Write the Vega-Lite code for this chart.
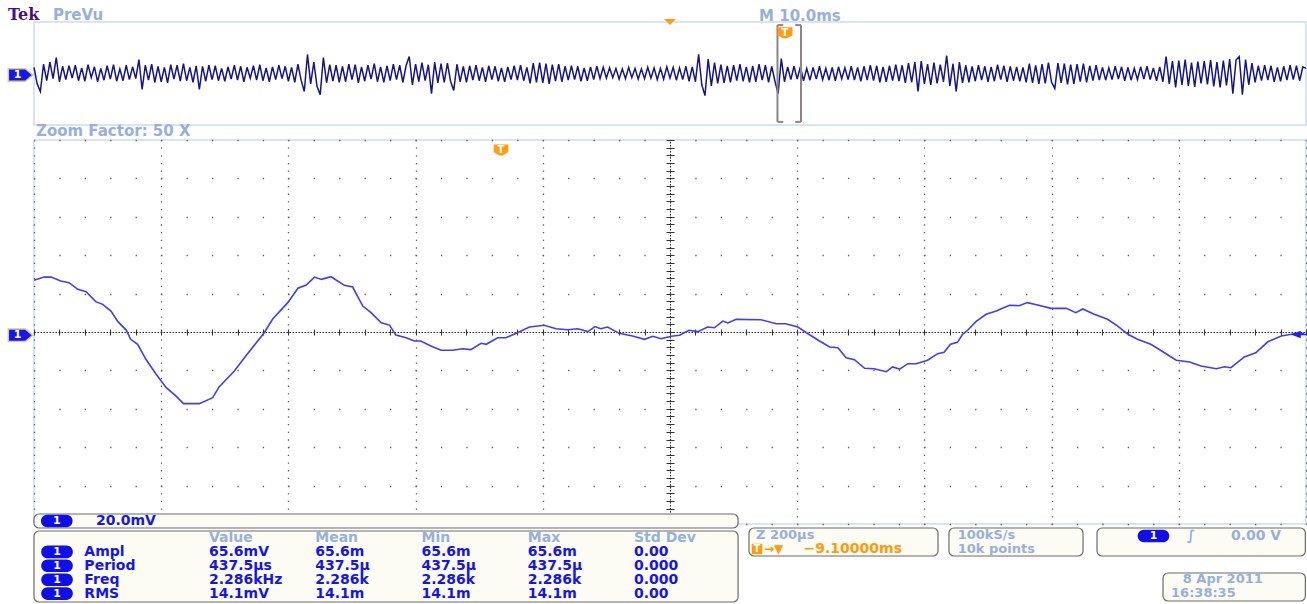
{
"$schema":"https://vega.github.io/schema/vega-lite/v6.json",
"padding":0,
"background":"white",
"bounds":"flush",
"spacing":15,
"config":{"view":{"stroke":"#c9dcf2","strokeWidth":1.5},"axis":{"labels":false,"ticks":false,"domain":false,"grid":false}},
"datasets":{
"one":[{"k":1}],
"rows":[{"row":"Ampl","label":"Ampl"},{"row":"Period","label":"Period"},{"row":"Freq","label":"Freq"},{"row":"RMS","label":"RMS"}],
"table":[
{"row":"hdr","col":"Value","text":"Value"},{"row":"hdr","col":"Mean","text":"Mean"},{"row":"hdr","col":"Min","text":"Min"},{"row":"hdr","col":"Max","text":"Max"},{"row":"hdr","col":"Std Dev","text":"Std Dev"},
{"row":"Ampl","col":"Value","text":"65.6mV"},{"row":"Ampl","col":"Mean","text":"65.6m"},{"row":"Ampl","col":"Min","text":"65.6m"},{"row":"Ampl","col":"Max","text":"65.6m"},{"row":"Ampl","col":"Std Dev","text":"0.00"},
{"row":"Period","col":"Value","text":"437.5µs"},{"row":"Period","col":"Mean","text":"437.5µ"},{"row":"Period","col":"Min","text":"437.5µ"},{"row":"Period","col":"Max","text":"437.5µ"},{"row":"Period","col":"Std Dev","text":"0.000"},
{"row":"Freq","col":"Value","text":"2.286kHz"},{"row":"Freq","col":"Mean","text":"2.286k"},{"row":"Freq","col":"Min","text":"2.286k"},{"row":"Freq","col":"Max","text":"2.286k"},{"row":"Freq","col":"Std Dev","text":"0.000"},
{"row":"RMS","col":"Value","text":"14.1mV"},{"row":"RMS","col":"Mean","text":"14.1m"},{"row":"RMS","col":"Min","text":"14.1m"},{"row":"RMS","col":"Max","text":"14.1m"},{"row":"RMS","col":"Std Dev","text":"0.00"}],
"zoom":[
{"t":-1000,"v":26.9},{"t":-984,"v":28.6},{"t":-973,"v":28.6},{"t":-958,"v":26.6},{"t":-945,"v":25.7},{"t":-931,"v":22.2},{"t":-918,"v":21.0},{"t":-903,"v":15.8},{"t":-892,"v":14.4},{"t":-879,"v":10.9},{"t":-868,"v":5.4},{"t":-855,"v":1.0},{"t":-848,"v":-3.8},{"t":-837,"v":-6.4},{"t":-824,"v":-14.2},{"t":-808,"v":-22.0},{"t":-792,"v":-29.0},{"t":-777,"v":-33.3},{"t":-765,"v":-37.3},{"t":-740,"v":-37.3},{"t":-719,"v":-34.2},{"t":-709,"v":-28.6},{"t":-685,"v":-20.3},{"t":-667,"v":-12.5},{"t":-638,"v":-0.4},{"t":-625,"v":6.6},{"t":-601,"v":15.3},{"t":-585,"v":22.8},{"t":-572,"v":24.5},{"t":-559,"v":28.6},{"t":-548,"v":27.4},{"t":-533,"v":28.8},{"t":-512,"v":24.3},{"t":-499,"v":23.4},{"t":-483,"v":13.5},{"t":-470,"v":10.1},{"t":-454,"v":4.8},{"t":-441,"v":3.6},{"t":-431,"v":-1.6},{"t":-415,"v":-3.0},{"t":-402,"v":-4.7},{"t":-392,"v":-4.7},{"t":-376,"v":-7.3},{"t":-360,"v":-9.5},{"t":-342,"v":-9.5},{"t":-326,"v":-8.7},{"t":-313,"v":-9.2},{"t":-297,"v":-5.9},{"t":-289,"v":-6.4},{"t":-271,"v":-3.0},{"t":-258,"v":-3.0},{"t":-240,"v":-0.4},{"t":-221,"v":2.6},{"t":-198,"v":3.5},{"t":-179,"v":1.7},{"t":-161,"v":1.2},{"t":-145,"v":1.7},{"t":-129,"v":0.2},{"t":-118,"v":2.8},{"t":-109,"v":1.7},{"t":-98,"v":2.6},{"t":-80,"v":-0.7},{"t":-59,"v":-2.1},{"t":-40,"v":-3.8},{"t":-27,"v":-2.2},{"t":-14,"v":-3.5},{"t":2,"v":-2.2},{"t":15,"v":-1.7},{"t":30,"v":0.9},{"t":44,"v":0.2},{"t":59,"v":2.6},{"t":70,"v":2.2},{"t":83,"v":5.7},{"t":91,"v":4.7},{"t":104,"v":6.6},{"t":143,"v":6.4},{"t":167,"v":4.3},{"t":182,"v":4.3},{"t":201,"v":2.6},{"t":217,"v":-0.9},{"t":235,"v":-4.7},{"t":251,"v":-7.8},{"t":264,"v":-8.2},{"t":277,"v":-13.4},{"t":290,"v":-14.4},{"t":306,"v":-18.9},{"t":321,"v":-19.1},{"t":340,"v":-20.7},{"t":350,"v":-18.2},{"t":361,"v":-19.3},{"t":374,"v":-16.5},{"t":387,"v":-16.5},{"t":405,"v":-14.7},{"t":421,"v":-11.3},{"t":431,"v":-10.6},{"t":441,"v":-6.4},{"t":452,"v":-5.4},{"t":460,"v":-1.2},{"t":468,"v":0.9},{"t":481,"v":5.4},{"t":497,"v":9.2},{"t":513,"v":10.9},{"t":520,"v":12.0},{"t":534,"v":13.9},{"t":549,"v":13.7},{"t":562,"v":15.3},{"t":578,"v":14.1},{"t":599,"v":12.3},{"t":623,"v":12.3},{"t":638,"v":10.1},{"t":649,"v":12.0},{"t":667,"v":9.2},{"t":688,"v":6.6},{"t":704,"v":3.1},{"t":720,"v":-1.2},{"t":735,"v":-3.8},{"t":756,"v":-6.4},{"t":775,"v":-10.3},{"t":796,"v":-14.7},{"t":817,"v":-15.6},{"t":835,"v":-17.7},{"t":859,"v":-19.1},{"t":872,"v":-18.1},{"t":882,"v":-18.6},{"t":903,"v":-13.0},{"t":921,"v":-10.8},{"t":940,"v":-5.1},{"t":961,"v":-2.1},{"t":982,"v":-0.9},{"t":997,"v":-0.7}],
"preview":[
{"t":0,"v":12},{"t":0.25,"v":-20},{"t":0.5,"v":-35},{"t":0.75,"v":18},
{"t":1,"v":-14},{"t":1.25,"v":22},{"t":1.5,"v":-10},{"t":1.75,"v":31},
{"t":2,"v":-16},{"t":2.25,"v":14},{"t":2.5,"v":-12},{"t":2.75,"v":15},
{"t":3,"v":-9},{"t":3.25,"v":16},{"t":3.5,"v":-14},{"t":3.75,"v":11},
{"t":4,"v":-15},{"t":4.25,"v":17},{"t":4.5,"v":-8},{"t":4.75,"v":13},
{"t":5,"v":-16},{"t":5.25,"v":10},{"t":5.5,"v":-13},{"t":5.75,"v":15},
{"t":6,"v":-11},{"t":6.25,"v":17},{"t":6.5,"v":-15},{"t":6.75,"v":9},
{"t":7,"v":-14},{"t":7.25,"v":16},{"t":7.5,"v":-12},{"t":7.75,"v":13},
{"t":8,"v":-10},{"t":8.25,"v":27},{"t":8.5,"v":-31},{"t":8.75,"v":16},
{"t":9,"v":-13},{"t":9.25,"v":18},{"t":9.5,"v":-17},{"t":9.75,"v":14},
{"t":10,"v":-16},{"t":10.25,"v":12},{"t":10.5,"v":-18},{"t":10.75,"v":17},
{"t":11,"v":-11},{"t":11.25,"v":16},{"t":11.5,"v":-15},{"t":11.75,"v":19},
{"t":12,"v":-14},{"t":12.25,"v":12},{"t":12.5,"v":-17},{"t":12.75,"v":15},
{"t":13,"v":-31},{"t":13.25,"v":14},{"t":13.5,"v":-15},{"t":13.75,"v":16},
{"t":14,"v":-12},{"t":14.25,"v":15},{"t":14.5,"v":-14},{"t":14.75,"v":10},
{"t":15,"v":-15},{"t":15.25,"v":13},{"t":15.5,"v":-11},{"t":15.75,"v":16},
{"t":16,"v":-13},{"t":16.25,"v":14},{"t":16.5,"v":-16},{"t":16.75,"v":12},
{"t":17,"v":-9},{"t":17.25,"v":15},{"t":17.5,"v":-13},{"t":17.75,"v":17},
{"t":18,"v":-14},{"t":18.25,"v":11},{"t":18.5,"v":-16},{"t":18.75,"v":13},
{"t":19,"v":-12},{"t":19.25,"v":16},{"t":19.5,"v":-10},{"t":19.75,"v":14},
{"t":20,"v":-15},{"t":20.25,"v":12},{"t":20.5,"v":-17},{"t":20.75,"v":18},
{"t":21,"v":-13},{"t":21.25,"v":-35},{"t":21.5,"v":37},{"t":21.75,"v":-20},
{"t":22,"v":22},{"t":22.25,"v":-25},{"t":22.5,"v":-41},{"t":22.75,"v":31},
{"t":23,"v":-18},{"t":23.25,"v":17},{"t":23.5,"v":-15},{"t":23.75,"v":16},
{"t":24,"v":-17},{"t":24.25,"v":14},{"t":24.5,"v":-16},{"t":24.75,"v":18},
{"t":25,"v":-12},{"t":25.25,"v":17},{"t":25.5,"v":-18},{"t":25.75,"v":13},
{"t":26,"v":-15},{"t":26.25,"v":16},{"t":26.5,"v":-11},{"t":26.75,"v":19},
{"t":27,"v":-16},{"t":27.25,"v":13},{"t":27.5,"v":-17},{"t":27.75,"v":15},
{"t":28,"v":-14},{"t":28.25,"v":18},{"t":28.5,"v":-12},{"t":28.75,"v":16},
{"t":29,"v":-17},{"t":29.25,"v":15},{"t":29.5,"v":33},{"t":29.75,"v":-22},
{"t":30,"v":18},{"t":30.25,"v":-16},{"t":30.5,"v":21},{"t":30.75,"v":-14},
{"t":31,"v":17},{"t":31.25,"v":-39},{"t":31.5,"v":22},{"t":31.75,"v":-18},
{"t":32,"v":19},{"t":32.25,"v":-17},{"t":32.5,"v":20},{"t":32.75,"v":-15},
{"t":33,"v":-33},{"t":33.25,"v":18},{"t":33.5,"v":-16},{"t":33.75,"v":14},
{"t":34,"v":-17},{"t":34.25,"v":15},{"t":34.5,"v":-13},{"t":34.75,"v":16},
{"t":35,"v":-14},{"t":35.25,"v":12},{"t":35.5,"v":-16},{"t":35.75,"v":15},
{"t":36,"v":-12},{"t":36.25,"v":14},{"t":36.5,"v":-15},{"t":36.75,"v":11},
{"t":37,"v":-16},{"t":37.25,"v":13},{"t":37.5,"v":-12},{"t":37.75,"v":15},
{"t":38,"v":-13},{"t":38.25,"v":16},{"t":38.5,"v":-14},{"t":38.75,"v":12},
{"t":39,"v":-19},{"t":39.25,"v":20},{"t":39.5,"v":-17},{"t":39.75,"v":21},
{"t":40,"v":-18},{"t":40.25,"v":19},{"t":40.5,"v":-20},{"t":40.75,"v":17},
{"t":41,"v":-15},{"t":41.25,"v":18},{"t":41.5,"v":-16},{"t":41.75,"v":14},
{"t":42,"v":-13},{"t":42.25,"v":15},{"t":42.5,"v":-12},{"t":42.75,"v":14},
{"t":43,"v":-15},{"t":43.25,"v":11},{"t":43.5,"v":-14},{"t":43.75,"v":13},
{"t":44,"v":-12},{"t":44.25,"v":14},{"t":44.5,"v":-10},{"t":44.75,"v":12},
{"t":45,"v":-9},{"t":45.25,"v":11},{"t":45.5,"v":-8},{"t":45.75,"v":10},
{"t":46,"v":-11},{"t":46.25,"v":9},{"t":46.5,"v":-10},{"t":46.75,"v":12},
{"t":47,"v":-8},{"t":47.25,"v":10},{"t":47.5,"v":-11},{"t":47.75,"v":9},
{"t":48,"v":-10},{"t":48.25,"v":12},{"t":48.5,"v":-9},{"t":48.75,"v":11},
{"t":49,"v":-12},{"t":49.25,"v":10},{"t":49.5,"v":-11},{"t":49.75,"v":13},
{"t":50,"v":-9},{"t":50.25,"v":12},{"t":50.5,"v":-13},{"t":50.75,"v":11},
{"t":51,"v":-12},{"t":51.25,"v":14},{"t":51.5,"v":-15},{"t":51.75,"v":13},
{"t":52,"v":-16},{"t":52.25,"v":37},{"t":52.5,"v":-22},{"t":52.75,"v":-43},
{"t":53,"v":28},{"t":53.25,"v":-24},{"t":53.5,"v":21},{"t":53.75,"v":-19},
{"t":54,"v":17},{"t":54.25,"v":-18},{"t":54.5,"v":15},{"t":54.75,"v":-17},
{"t":55,"v":16},{"t":55.25,"v":-14},{"t":55.5,"v":18},{"t":55.75,"v":-15},
{"t":56,"v":13},{"t":56.25,"v":-17},{"t":56.5,"v":15},{"t":56.75,"v":-16},
{"t":57,"v":18},{"t":57.25,"v":-13},{"t":57.5,"v":16},{"t":57.75,"v":-17},
{"t":58,"v":14},{"t":58.25,"v":-15},{"t":58.5,"v":-39},{"t":58.75,"v":29},
{"t":59,"v":-16},{"t":59.25,"v":13},{"t":59.5,"v":-12},{"t":59.75,"v":14},
{"t":60,"v":-11},{"t":60.25,"v":13},{"t":60.5,"v":-14},{"t":60.75,"v":10},
{"t":61,"v":-13},{"t":61.25,"v":12},{"t":61.5,"v":-11},{"t":61.75,"v":14},
{"t":62,"v":-12},{"t":62.25,"v":10},{"t":62.5,"v":-13},{"t":62.75,"v":12},
{"t":63,"v":-14},{"t":63.25,"v":13},{"t":63.5,"v":-10},{"t":63.75,"v":11},
{"t":64,"v":-12},{"t":64.25,"v":14},{"t":64.5,"v":-13},{"t":64.75,"v":12},
{"t":65,"v":-15},{"t":65.25,"v":14},{"t":65.5,"v":-13},{"t":65.75,"v":16},
{"t":66,"v":-14},{"t":66.25,"v":15},{"t":66.5,"v":-17},{"t":66.75,"v":13},
{"t":67,"v":-16},{"t":67.25,"v":15},{"t":67.5,"v":-14},{"t":67.75,"v":17},
{"t":68,"v":-15},{"t":68.25,"v":16},{"t":68.5,"v":-18},{"t":68.75,"v":20},
{"t":69,"v":-17},{"t":69.25,"v":22},{"t":69.5,"v":-35},{"t":69.75,"v":24},
{"t":70,"v":-20},{"t":70.25,"v":18},{"t":70.5,"v":-22},{"t":70.75,"v":21},
{"t":71,"v":-19},{"t":71.25,"v":17},{"t":71.5,"v":-16},{"t":71.75,"v":35},
{"t":72,"v":-24},{"t":72.25,"v":19},{"t":72.5,"v":-35},{"t":72.75,"v":22},
{"t":73,"v":-18},{"t":73.25,"v":16},{"t":73.5,"v":-17},{"t":73.75,"v":14},
{"t":74,"v":-15},{"t":74.25,"v":16},{"t":74.5,"v":-13},{"t":74.75,"v":14},
{"t":75,"v":-16},{"t":75.25,"v":13},{"t":75.5,"v":-15},{"t":75.75,"v":17},
{"t":76,"v":-12},{"t":76.25,"v":15},{"t":76.5,"v":-16},{"t":76.75,"v":14},
{"t":77,"v":-14},{"t":77.25,"v":13},{"t":77.5,"v":-15},{"t":77.75,"v":12},
{"t":78,"v":-17},{"t":78.25,"v":19},{"t":78.5,"v":-18},{"t":78.75,"v":16},
{"t":79,"v":-20},{"t":79.25,"v":18},{"t":79.5,"v":-19},{"t":79.75,"v":21},
{"t":80,"v":-17},{"t":80.25,"v":-29},{"t":80.5,"v":20},{"t":80.75,"v":-18},
{"t":81,"v":19},{"t":81.25,"v":-21},{"t":81.5,"v":17},{"t":81.75,"v":-20},
{"t":82,"v":18},{"t":82.25,"v":-16},{"t":82.5,"v":19},{"t":82.75,"v":-17},
{"t":83,"v":15},{"t":83.25,"v":-14},{"t":83.5,"v":16},{"t":83.75,"v":-13},
{"t":84,"v":12},{"t":84.25,"v":-13},{"t":84.5,"v":11},{"t":84.75,"v":-12},
{"t":85,"v":14},{"t":85.25,"v":-11},{"t":85.5,"v":13},{"t":85.75,"v":-14},
{"t":86,"v":12},{"t":86.25,"v":-13},{"t":86.5,"v":10},{"t":86.75,"v":-12},
{"t":87,"v":13},{"t":87.25,"v":-11},{"t":87.5,"v":14},{"t":87.75,"v":-12},
{"t":88,"v":11},{"t":88.25,"v":-14},{"t":88.5,"v":13},{"t":88.75,"v":-16},
{"t":89,"v":33},{"t":89.25,"v":-20},{"t":89.5,"v":24},{"t":89.75,"v":-27},
{"t":90,"v":25},{"t":90.25,"v":-22},{"t":90.5,"v":27},{"t":90.75,"v":-24},
{"t":91,"v":21},{"t":91.25,"v":-26},{"t":91.5,"v":23},{"t":91.75,"v":-19},
{"t":92,"v":24},{"t":92.25,"v":-21},{"t":92.5,"v":26},{"t":92.75,"v":-25},
{"t":93,"v":22},{"t":93.25,"v":-27},{"t":93.5,"v":25},{"t":93.75,"v":-23},
{"t":94,"v":28},{"t":94.25,"v":-39},{"t":94.5,"v":26},{"t":94.75,"v":33},
{"t":95,"v":-41},{"t":95.25,"v":27},{"t":95.5,"v":-22},{"t":95.75,"v":20},
{"t":96,"v":-17},{"t":96.25,"v":15},{"t":96.5,"v":-14},{"t":96.75,"v":16},
{"t":97,"v":-13},{"t":97.25,"v":15},{"t":97.5,"v":-16},{"t":97.75,"v":12},
{"t":98,"v":-15},{"t":98.25,"v":14},{"t":98.5,"v":-13},{"t":98.75,"v":16},
{"t":99,"v":-12},{"t":99.25,"v":15},{"t":99.5,"v":-14},{"t":99.75,"v":13},
{"t":100,"v":10}]
},
"vconcat":[
{"width":1272,"height":103,
"layer":[
{"data":{"name":"one"},"mark":{"type":"rect","fill":"white","strokeWidth":0},"encoding":{"x":{"datum":-2.59,"type":"quantitative","scale":{"domain":[0,100],"nice":false,"zero":false},"axis":null},"x2":{"datum":100.15},"y":{"datum":140.7,"type":"quantitative","scale":{"domain":[-100,100],"nice":false,"zero":false},"axis":null},"y2":{"datum":121}}},
{"data":{"name":"preview"},"mark":{"type":"line","color":"#15158a","strokeWidth":1.5},"encoding":{"x":{"field":"t","type":"quantitative","scale":{"domain":[0,100],"nice":false,"zero":false},"axis":null},"y":{"field":"v","type":"quantitative","scale":{"domain":[-100,100],"nice":false,"zero":false},"axis":null}}},
{"data":{"name":"one"},"mark":{"type":"rule","color":"#8d8585","strokeWidth":2},"encoding":{"x":{"datum":58.45,"type":"quantitative","scale":{"domain":[0,100],"nice":false,"zero":false},"axis":null},"y":{"datum":94,"type":"quantitative","scale":{"domain":[-100,100],"nice":false,"zero":false},"axis":null},"y2":{"datum":-94}}},
{"data":{"name":"one"},"mark":{"type":"rule","color":"#8d8585","strokeWidth":2},"encoding":{"x":{"datum":60.3,"type":"quantitative","scale":{"domain":[0,100],"nice":false,"zero":false},"axis":null},"y":{"datum":94,"type":"quantitative","scale":{"domain":[-100,100],"nice":false,"zero":false},"axis":null},"y2":{"datum":-94}}},
{"data":{"name":"one"},"mark":{"type":"rule","color":"#8d8585","strokeWidth":2},"encoding":{"x":{"datum":58.45,"type":"quantitative","scale":{"domain":[0,100],"nice":false,"zero":false},"axis":null},"x2":{"datum":58.9},"y":{"datum":94,"type":"quantitative","scale":{"domain":[-100,100],"nice":false,"zero":false},"axis":null}}},
{"data":{"name":"one"},"mark":{"type":"rule","color":"#8d8585","strokeWidth":2},"encoding":{"x":{"datum":58.45,"type":"quantitative","scale":{"domain":[0,100],"nice":false,"zero":false},"axis":null},"x2":{"datum":58.9},"y":{"datum":-94,"type":"quantitative","scale":{"domain":[-100,100],"nice":false,"zero":false},"axis":null}}},
{"data":{"name":"one"},"mark":{"type":"rule","color":"#8d8585","strokeWidth":2},"encoding":{"x":{"datum":59.85,"type":"quantitative","scale":{"domain":[0,100],"nice":false,"zero":false},"axis":null},"x2":{"datum":60.3},"y":{"datum":94,"type":"quantitative","scale":{"domain":[-100,100],"nice":false,"zero":false},"axis":null}}},
{"data":{"name":"one"},"mark":{"type":"rule","color":"#8d8585","strokeWidth":2},"encoding":{"x":{"datum":59.85,"type":"quantitative","scale":{"domain":[0,100],"nice":false,"zero":false},"axis":null},"x2":{"datum":60.3},"y":{"datum":-94,"type":"quantitative","scale":{"domain":[-100,100],"nice":false,"zero":false},"axis":null}}},
{"data":{"name":"one"},"mark":{"type":"point","shape":"M-1,-0.5H1L0,0.5Z","filled":true,"opacity":1,"color":"#ff9c10","size":144},"encoding":{"x":{"datum":50,"type":"quantitative","scale":{"domain":[0,100],"nice":false,"zero":false},"axis":null},"y":{"datum":100,"type":"quantitative","scale":{"domain":[-100,100],"nice":false,"zero":false},"axis":null}}},
{"data":{"name":"one"},"mark":{"type":"point","shape":"M-1,-0.75H1V0.3L0.2,0.75H-0.2L-1,0.3Z","filled":true,"opacity":1,"color":"#ff9c10","size":225},"encoding":{"x":{"datum":59.04,"type":"quantitative","scale":{"domain":[0,100],"nice":false,"zero":false},"axis":null},"y":{"datum":78.7,"type":"quantitative","scale":{"domain":[-100,100],"nice":false,"zero":false},"axis":null}}},
{"data":{"name":"one"},"mark":{"type":"text","text":"T","align":"center","baseline":"middle","font":"DejaVu Sans","fontWeight":"bold","fontSize":10,"color":"white"},"encoding":{"x":{"datum":59.04,"type":"quantitative","scale":{"domain":[0,100],"nice":false,"zero":false},"axis":null},"y":{"datum":78.7,"type":"quantitative","scale":{"domain":[-100,100],"nice":false,"zero":false},"axis":null}}},
{"data":{"name":"one"},"mark":{"type":"point","shape":"M-1,-0.52H0.4L1,0L0.4,0.52H-1Z","filled":true,"opacity":1,"fill":"#1616ee","stroke":"#d9cc80","strokeWidth":1.5,"size":595},"encoding":{"x":{"datum":-1.06,"type":"quantitative","scale":{"domain":[0,100],"nice":false,"zero":false},"axis":null},"y":{"datum":-2.9,"type":"quantitative","scale":{"domain":[-100,100],"nice":false,"zero":false},"axis":null}}},
{"data":{"name":"one"},"mark":{"type":"text","text":"1","align":"center","baseline":"middle","dx":-3,"font":"DejaVu Sans","fontWeight":"bold","fontSize":11,"color":"white"},"encoding":{"x":{"datum":-1.06,"type":"quantitative","scale":{"domain":[0,100],"nice":false,"zero":false},"axis":null},"y":{"datum":-2.9,"type":"quantitative","scale":{"domain":[-100,100],"nice":false,"zero":false},"axis":null}}},
{"data":{"name":"one"},"mark":{"type":"text","text":"Tek","align":"left","baseline":"middle","font":"DejaVu Serif","fontWeight":"bold","fontSize":16,"color":"#4a0f7e"},"encoding":{"x":{"datum":-2.04,"type":"quantitative","scale":{"domain":[0,100],"nice":false,"zero":false},"axis":null},"y":{"datum":113,"type":"quantitative","scale":{"domain":[-100,100],"nice":false,"zero":false},"axis":null}}},
{"data":{"name":"one"},"mark":{"type":"text","text":"PreVu","align":"left","baseline":"middle","font":"DejaVu Sans","fontWeight":"bold","fontSize":15,"color":"#98afdc"},"encoding":{"x":{"datum":1.49,"type":"quantitative","scale":{"domain":[0,100],"nice":false,"zero":false},"axis":null},"y":{"datum":113,"type":"quantitative","scale":{"domain":[-100,100],"nice":false,"zero":false},"axis":null}}},
{"data":{"name":"one"},"mark":{"type":"text","text":"M 10.0ms","align":"left","baseline":"middle","font":"DejaVu Sans","fontWeight":"bold","fontSize":15,"color":"#98afdc"},"encoding":{"x":{"datum":57.0,"type":"quantitative","scale":{"domain":[0,100],"nice":false,"zero":false},"axis":null},"y":{"datum":112.6,"type":"quantitative","scale":{"domain":[-100,100],"nice":false,"zero":false},"axis":null}}},
{"data":{"name":"one"},"mark":{"type":"text","text":"Zoom Factor: 50 X","align":"left","baseline":"middle","font":"DejaVu Sans","fontWeight":"bold","fontSize":15,"color":"#98afdc"},"encoding":{"x":{"datum":0.16,"type":"quantitative","scale":{"domain":[0,100],"nice":false,"zero":false},"axis":null},"y":{"datum":-112.6,"type":"quantitative","scale":{"domain":[-100,100],"nice":false,"zero":false},"axis":null}}}
]},
{"width":1272,"height":384,
"data":{"name":"zoom"},
"resolve":{"axis":{"x":"independent","y":"independent"}},
"layer":[
{"mark":{"type":"line","opacity":0},"encoding":{
"x":{"field":"t","type":"quantitative","scale":{"domain":[-1000,1000],"nice":false,"zero":false},"axis":{"orient":"bottom","offset":-192,"title":null,"labels":false,"grid":false,"domain":true,"domainColor":"#222222","domainDash":[1.5,1.5],"domainWidth":1,"ticks":true,"tickSize":3,"tickColor":"#333333","tickWidth":1,"values":[-1000,-960,-920,-880,-840,-800,-760,-720,-680,-640,-600,-560,-520,-480,-440,-400,-360,-320,-280,-240,-200,-160,-120,-80,-40,0,40,80,120,160,200,240,280,320,360,400,440,480,520,560,600,640,680,720,760,800,840,880,920,960,1000]}},
"y":{"field":"v","type":"quantitative","scale":{"domain":[-100,100],"nice":false,"zero":false},"axis":{"orient":"left","offset":-636,"title":null,"labels":false,"grid":false,"domain":true,"domainColor":"#222222","domainDash":[1.5,1.5],"domainWidth":1,"ticks":true,"tickSize":4,"tickColor":"#333333","tickWidth":1,"values":[-100,-96,-92,-88,-84,-80,-76,-72,-68,-64,-60,-56,-52,-48,-44,-40,-36,-32,-28,-24,-20,-16,-12,-8,-4,0,4,8,12,16,20,24,28,32,36,40,44,48,52,56,60,64,68,72,76,80,84,88,92,96,100]}}}},
{"mark":{"type":"line","opacity":0},"encoding":{
"x":{"field":"t","type":"quantitative","scale":{"domain":[-1000,1000],"nice":false,"zero":false},"axis":{"orient":"top","offset":-192,"title":null,"labels":false,"grid":false,"domain":false,"ticks":true,"tickSize":3,"tickColor":"#333333","tickWidth":1,"values":[-1000,-960,-920,-880,-840,-800,-760,-720,-680,-640,-600,-560,-520,-480,-440,-400,-360,-320,-280,-240,-200,-160,-120,-80,-40,0,40,80,120,160,200,240,280,320,360,400,440,480,520,560,600,640,680,720,760,800,840,880,920,960,1000]}},
"y":{"field":"v","type":"quantitative","scale":{"domain":[-100,100],"nice":false,"zero":false},"axis":{"orient":"right","offset":-636,"title":null,"labels":false,"grid":false,"domain":false,"ticks":true,"tickSize":4,"tickColor":"#333333","tickWidth":1,"values":[-100,-96,-92,-88,-84,-80,-76,-72,-68,-64,-60,-56,-52,-48,-44,-40,-36,-32,-28,-24,-20,-16,-12,-8,-4,0,4,8,12,16,20,24,28,32,36,40,44,48,52,56,60,64,68,72,76,80,84,88,92,96,100]}}}},
{"mark":{"type":"line","color":"#3d3dfa","strokeWidth":1.6},"encoding":{
"x":{"field":"t","type":"quantitative","scale":{"domain":[-1000,1000],"nice":false,"zero":false},"axis":{"orient":"top","title":null,"labels":false,"ticks":false,"domain":false,"grid":true,"values":[-1000,-800,-600,-400,-200,0,200,400,600,800,1000],"gridColor":"#5a5a5a","gridWidth":1.3,"gridOpacity":1,"gridDash":[1.3,6.38],"gridDashOffset":0.65}},
"y":{"field":"v","type":"quantitative","scale":{"domain":[-100,100],"nice":false,"zero":false},"axis":{"orient":"left","title":null,"labels":false,"ticks":false,"domain":false,"grid":true,"values":[-100,-80,-60,-40,-20,0,20,40,60,80,100],"gridColor":"#5a5a5a","gridWidth":1.3,"gridOpacity":1,"gridDash":[1.3,24.14],"gridDashOffset":0.65}}}},
{"data":{"name":"one"},"mark":{"type":"point","shape":"M-1,-0.75H1V0.3L0.2,0.75H-0.2L-1,0.3Z","filled":true,"opacity":1,"color":"#ff9c10","size":213},"encoding":{"x":{"datum":-265.7,"type":"quantitative","scale":{"domain":[-1000,1000],"nice":false,"zero":false},"axis":null},"y":{"datum":94.8,"type":"quantitative","scale":{"domain":[-100,100],"nice":false,"zero":false},"axis":null}}},
{"data":{"name":"one"},"mark":{"type":"text","text":"T","align":"center","baseline":"middle","font":"DejaVu Sans","fontWeight":"bold","fontSize":10,"color":"white"},"encoding":{"x":{"datum":-265.7,"type":"quantitative","scale":{"domain":[-1000,1000],"nice":false,"zero":false},"axis":null},"y":{"datum":94.8,"type":"quantitative","scale":{"domain":[-100,100],"nice":false,"zero":false},"axis":null}}},
{"data":{"name":"one"},"mark":{"type":"point","shape":"M-1,-0.52H0.4L1,0L0.4,0.52H-1Z","filled":true,"opacity":1,"fill":"#1616ee","stroke":"#d9cc80","strokeWidth":1.5,"size":595},"encoding":{"x":{"datum":-1021.2,"type":"quantitative","scale":{"domain":[-1000,1000],"nice":false,"zero":false},"axis":null},"y":{"datum":-1.7,"type":"quantitative","scale":{"domain":[-100,100],"nice":false,"zero":false},"axis":null}}},
{"data":{"name":"one"},"mark":{"type":"text","text":"1","align":"center","baseline":"middle","dx":-3,"font":"DejaVu Sans","fontWeight":"bold","fontSize":11,"color":"white"},"encoding":{"x":{"datum":-1021.2,"type":"quantitative","scale":{"domain":[-1000,1000],"nice":false,"zero":false},"axis":null},"y":{"datum":-1.7,"type":"quantitative","scale":{"domain":[-100,100],"nice":false,"zero":false},"axis":null}}},
{"data":{"name":"one"},"mark":{"type":"rule","color":"#2020ff","strokeWidth":1.5},"encoding":{"x":{"datum":985,"type":"quantitative","scale":{"domain":[-1000,1000],"nice":false,"zero":false},"axis":null},"x2":{"datum":1000},"y":{"datum":-1.3,"type":"quantitative","scale":{"domain":[-100,100],"nice":false,"zero":false},"axis":null}}},
{"data":{"name":"one"},"mark":{"type":"point","shape":"M1,-0.75L-1,0L1,0.75Z","filled":true,"opacity":1,"color":"#2020ff","size":100},"encoding":{"x":{"datum":984,"type":"quantitative","scale":{"domain":[-1000,1000],"nice":false,"zero":false},"axis":null},"y":{"datum":-1.3,"type":"quantitative","scale":{"domain":[-100,100],"nice":false,"zero":false},"axis":null}}}
]},
{"width":1272,"height":66,
"view":{"stroke":null},
"resolve":{"scale":{"x":"independent","y":"independent"}},
"layer":[
{"data":{"name":"one"},"mark":{"type":"rect","cornerRadius":5,"fill":"#fcfcf4","stroke":"#6b6b6b","strokeWidth":1.2},"encoding":{"x":{"datum":0,"type":"quantitative","scale":{"domain":[0,100],"nice":false,"zero":false},"axis":null},"x2":{"datum":55.35},"y":{"datum":-37.88,"type":"quantitative","scale":{"domain":[0,100],"nice":false,"zero":false,"reverse":true},"axis":null},"y2":{"datum":-16.67}}},
{"data":{"name":"one"},"mark":{"type":"rect","cornerRadius":5,"fill":"#fcfcf4","stroke":"#6b6b6b","strokeWidth":1.2},"encoding":{"x":{"datum":0,"type":"quantitative","scale":{"domain":[0,100],"nice":false,"zero":false},"axis":null},"x2":{"datum":55.35},"y":{"datum":-12.12,"type":"quantitative","scale":{"domain":[0,100],"nice":false,"zero":false,"reverse":true},"axis":null},"y2":{"datum":95.45}}},
{"data":{"name":"one"},"mark":{"type":"rect","cornerRadius":5,"fill":"#fcfcf4","stroke":"#6b6b6b","strokeWidth":1.2},"encoding":{"x":{"datum":56.21,"type":"quantitative","scale":{"domain":[0,100],"nice":false,"zero":false},"axis":null},"x2":{"datum":71.07},"y":{"datum":-16.67,"type":"quantitative","scale":{"domain":[0,100],"nice":false,"zero":false,"reverse":true},"axis":null},"y2":{"datum":25.76}}},
{"data":{"name":"one"},"mark":{"type":"rect","cornerRadius":5,"fill":"#fcfcf4","stroke":"#6b6b6b","strokeWidth":1.2},"encoding":{"x":{"datum":71.93,"type":"quantitative","scale":{"domain":[0,100],"nice":false,"zero":false},"axis":null},"x2":{"datum":82.47},"y":{"datum":-16.67,"type":"quantitative","scale":{"domain":[0,100],"nice":false,"zero":false,"reverse":true},"axis":null},"y2":{"datum":25.76}}},
{"data":{"name":"one"},"mark":{"type":"rect","cornerRadius":5,"fill":"#fcfcf4","stroke":"#6b6b6b","strokeWidth":1.2},"encoding":{"x":{"datum":83.57,"type":"quantitative","scale":{"domain":[0,100],"nice":false,"zero":false},"axis":null},"x2":{"datum":99.95},"y":{"datum":-16.67,"type":"quantitative","scale":{"domain":[0,100],"nice":false,"zero":false,"reverse":true},"axis":null},"y2":{"datum":25.76}}},
{"data":{"name":"one"},"mark":{"type":"rect","cornerRadius":5,"fill":"#fcfcf4","stroke":"#6b6b6b","strokeWidth":1.2},"encoding":{"x":{"datum":88.76,"type":"quantitative","scale":{"domain":[0,100],"nice":false,"zero":false},"axis":null},"x2":{"datum":99.95},"y":{"datum":51.52,"type":"quantitative","scale":{"domain":[0,100],"nice":false,"zero":false,"reverse":true},"axis":null},"y2":{"datum":93.94}}},
{"data":{"name":"one"},"mark":{"type":"point","shape":"M-0.6,-0.4H0.6A0.4,0.4 0 0 1 0.6,0.4H-0.6A0.4,0.4 0 0 1 -0.6,-0.4Z","filled":true,"opacity":1,"color":"#0f0fe6","size":1000},"encoding":{"x":{"datum":1.79,"type":"quantitative","scale":{"domain":[0,100],"nice":false,"zero":false},"axis":null},"y":{"datum":-27.27,"type":"quantitative","scale":{"domain":[0,100],"nice":false,"zero":false,"reverse":true},"axis":null}}},
{"data":{"name":"one"},"mark":{"type":"text","text":"1","align":"center","baseline":"middle","font":"DejaVu Sans","fontWeight":"bold","fontSize":11,"color":"white"},"encoding":{"x":{"datum":1.79,"type":"quantitative","scale":{"domain":[0,100],"nice":false,"zero":false},"axis":null},"y":{"datum":-27.27,"type":"quantitative","scale":{"domain":[0,100],"nice":false,"zero":false,"reverse":true},"axis":null}}},
{"data":{"name":"one"},"mark":{"type":"text","text":"20.0mV","align":"left","baseline":"middle","font":"DejaVu Sans","fontWeight":"bold","fontSize":14,"color":"#1414ee"},"encoding":{"x":{"datum":4.87,"type":"quantitative","scale":{"domain":[0,100],"nice":false,"zero":false},"axis":null},"y":{"datum":-27.27,"type":"quantitative","scale":{"domain":[0,100],"nice":false,"zero":false,"reverse":true},"axis":null}}},
{"data":{"name":"table"},"mark":{"type":"text","align":"left","baseline":"middle","font":"DejaVu Sans","fontWeight":"bold","fontSize":14},"encoding":{"x":{"field":"col","type":"nominal","scale":{"type":"point","domain":["Value","Mean","Min","Max","Std Dev"],"range":[175,600],"padding":0},"axis":null},"y":{"field":"row","type":"nominal","scale":{"type":"point","domain":["hdr","Ampl","Period","Freq","RMS"],"range":[-1,54.6],"padding":0},"axis":null},"text":{"field":"text"},"color":{"condition":{"test":"datum.row === 'hdr'","value":"#98afdc"},"value":"#1414ee"}}},
{"data":{"name":"rows"},"mark":{"type":"text","align":"left","baseline":"middle","font":"DejaVu Sans","fontWeight":"bold","fontSize":14,"color":"#1414ee"},"encoding":{"x":{"datum":3.96,"type":"quantitative","scale":{"domain":[0,100],"nice":false,"zero":false},"axis":null},"y":{"field":"row","type":"nominal","scale":{"type":"point","domain":["hdr","Ampl","Period","Freq","RMS"],"range":[-1,54.6],"padding":0},"axis":null},"text":{"field":"label"}}},
{"data":{"name":"rows"},"mark":{"type":"point","shape":"M-0.6,-0.4H0.6A0.4,0.4 0 0 1 0.6,0.4H-0.6A0.4,0.4 0 0 1 -0.6,-0.4Z","filled":true,"opacity":1,"color":"#0f0fe6","size":1000},"encoding":{"x":{"datum":1.81,"type":"quantitative","scale":{"domain":[0,100],"nice":false,"zero":false},"axis":null},"y":{"field":"row","type":"nominal","scale":{"type":"point","domain":["hdr","Ampl","Period","Freq","RMS"],"range":[-1,54.6],"padding":0},"axis":null}}},
{"data":{"name":"rows"},"mark":{"type":"text","text":"1","align":"center","baseline":"middle","font":"DejaVu Sans","fontWeight":"bold","fontSize":11,"color":"white"},"encoding":{"x":{"datum":1.81,"type":"quantitative","scale":{"domain":[0,100],"nice":false,"zero":false},"axis":null},"y":{"field":"row","type":"nominal","scale":{"type":"point","domain":["hdr","Ampl","Period","Freq","RMS"],"range":[-1,54.6],"padding":0},"axis":null}}},
{"data":{"name":"one"},"mark":{"type":"text","text":"Z 200µs","align":"left","baseline":"middle","font":"DejaVu Sans","fontWeight":"bold","fontSize":13,"color":"#98afdc"},"encoding":{"x":{"datum":56.76,"type":"quantitative","scale":{"domain":[0,100],"nice":false,"zero":false},"axis":null},"y":{"datum":-6.06,"type":"quantitative","scale":{"domain":[0,100],"nice":false,"zero":false,"reverse":true},"axis":null}}},
{"data":{"name":"one"},"mark":{"type":"point","shape":"square","filled":true,"opacity":1,"color":"#ff9a0a","size":110},"encoding":{"x":{"datum":56.84,"type":"quantitative","scale":{"domain":[0,100],"nice":false,"zero":false},"axis":null},"y":{"datum":15.15,"type":"quantitative","scale":{"domain":[0,100],"nice":false,"zero":false,"reverse":true},"axis":null}}},
{"data":{"name":"one"},"mark":{"type":"text","text":"T","align":"center","baseline":"middle","font":"DejaVu Sans","fontWeight":"bold","fontSize":10,"color":"white"},"encoding":{"x":{"datum":56.84,"type":"quantitative","scale":{"domain":[0,100],"nice":false,"zero":false},"axis":null},"y":{"datum":15.15,"type":"quantitative","scale":{"domain":[0,100],"nice":false,"zero":false,"reverse":true},"axis":null}}},
{"data":{"name":"one"},"mark":{"type":"text","text":"→▼","align":"left","baseline":"middle","font":"DejaVu Sans","fontWeight":"bold","fontSize":12,"color":"#ff9a0a"},"encoding":{"x":{"datum":57.39,"type":"quantitative","scale":{"domain":[0,100],"nice":false,"zero":false},"axis":null},"y":{"datum":15.15,"type":"quantitative","scale":{"domain":[0,100],"nice":false,"zero":false,"reverse":true},"axis":null}}},
{"data":{"name":"one"},"mark":{"type":"text","text":"−9.10000ms","align":"left","baseline":"middle","font":"DejaVu Sans","fontWeight":"bold","fontSize":14,"color":"#ff9a0a"},"encoding":{"x":{"datum":60.5,"type":"quantitative","scale":{"domain":[0,100],"nice":false,"zero":false},"axis":null},"y":{"datum":15.15,"type":"quantitative","scale":{"domain":[0,100],"nice":false,"zero":false,"reverse":true},"axis":null}}},
{"data":{"name":"one"},"mark":{"type":"text","text":"100kS/s","align":"left","baseline":"middle","font":"DejaVu Sans","fontWeight":"bold","fontSize":13,"color":"#98afdc"},"encoding":{"x":{"datum":72.62,"type":"quantitative","scale":{"domain":[0,100],"nice":false,"zero":false},"axis":null},"y":{"datum":-6.06,"type":"quantitative","scale":{"domain":[0,100],"nice":false,"zero":false,"reverse":true},"axis":null}}},
{"data":{"name":"one"},"mark":{"type":"text","text":"10k points","align":"left","baseline":"middle","font":"DejaVu Sans","fontWeight":"bold","fontSize":13,"color":"#98afdc"},"encoding":{"x":{"datum":72.62,"type":"quantitative","scale":{"domain":[0,100],"nice":false,"zero":false},"axis":null},"y":{"datum":15.15,"type":"quantitative","scale":{"domain":[0,100],"nice":false,"zero":false,"reverse":true},"axis":null}}},
{"data":{"name":"one"},"mark":{"type":"point","shape":"M-0.6,-0.4H0.6A0.4,0.4 0 0 1 0.6,0.4H-0.6A0.4,0.4 0 0 1 -0.6,-0.4Z","filled":true,"opacity":1,"color":"#0f0fe6","size":1000},"encoding":{"x":{"datum":88.01,"type":"quantitative","scale":{"domain":[0,100],"nice":false,"zero":false},"axis":null},"y":{"datum":-4.55,"type":"quantitative","scale":{"domain":[0,100],"nice":false,"zero":false,"reverse":true},"axis":null}}},
{"data":{"name":"one"},"mark":{"type":"text","text":"1","align":"center","baseline":"middle","font":"DejaVu Sans","fontWeight":"bold","fontSize":11,"color":"white"},"encoding":{"x":{"datum":88.01,"type":"quantitative","scale":{"domain":[0,100],"nice":false,"zero":false},"axis":null},"y":{"datum":-4.55,"type":"quantitative","scale":{"domain":[0,100],"nice":false,"zero":false,"reverse":true},"axis":null}}},
{"data":{"name":"one"},"mark":{"type":"text","text":"∫","align":"center","baseline":"middle","font":"DejaVu Sans","fontWeight":"bold","fontSize":14,"color":"#98afdc"},"encoding":{"x":{"datum":90.96,"type":"quantitative","scale":{"domain":[0,100],"nice":false,"zero":false},"axis":null},"y":{"datum":-4.55,"type":"quantitative","scale":{"domain":[0,100],"nice":false,"zero":false,"reverse":true},"axis":null}}},
{"data":{"name":"one"},"mark":{"type":"text","text":"0.00 V","align":"left","baseline":"middle","font":"DejaVu Sans","fontWeight":"bold","fontSize":14,"color":"#98afdc"},"encoding":{"x":{"datum":94.1,"type":"quantitative","scale":{"domain":[0,100],"nice":false,"zero":false},"axis":null},"y":{"datum":-4.55,"type":"quantitative","scale":{"domain":[0,100],"nice":false,"zero":false,"reverse":true},"axis":null}}},
{"data":{"name":"one"},"mark":{"type":"text","text":"8 Apr 2011","align":"left","baseline":"middle","font":"DejaVu Sans","fontWeight":"bold","fontSize":13,"color":"#98afdc"},"encoding":{"x":{"datum":90.31,"type":"quantitative","scale":{"domain":[0,100],"nice":false,"zero":false},"axis":null},"y":{"datum":60.6,"type":"quantitative","scale":{"domain":[0,100],"nice":false,"zero":false,"reverse":true},"axis":null}}},
{"data":{"name":"one"},"mark":{"type":"text","text":"16:38:35","align":"left","baseline":"middle","font":"DejaVu Sans","fontWeight":"bold","fontSize":13,"color":"#98afdc"},"encoding":{"x":{"datum":89.39,"type":"quantitative","scale":{"domain":[0,100],"nice":false,"zero":false},"axis":null},"y":{"datum":81.8,"type":"quantitative","scale":{"domain":[0,100],"nice":false,"zero":false,"reverse":true},"axis":null}}}
]}
]
}
